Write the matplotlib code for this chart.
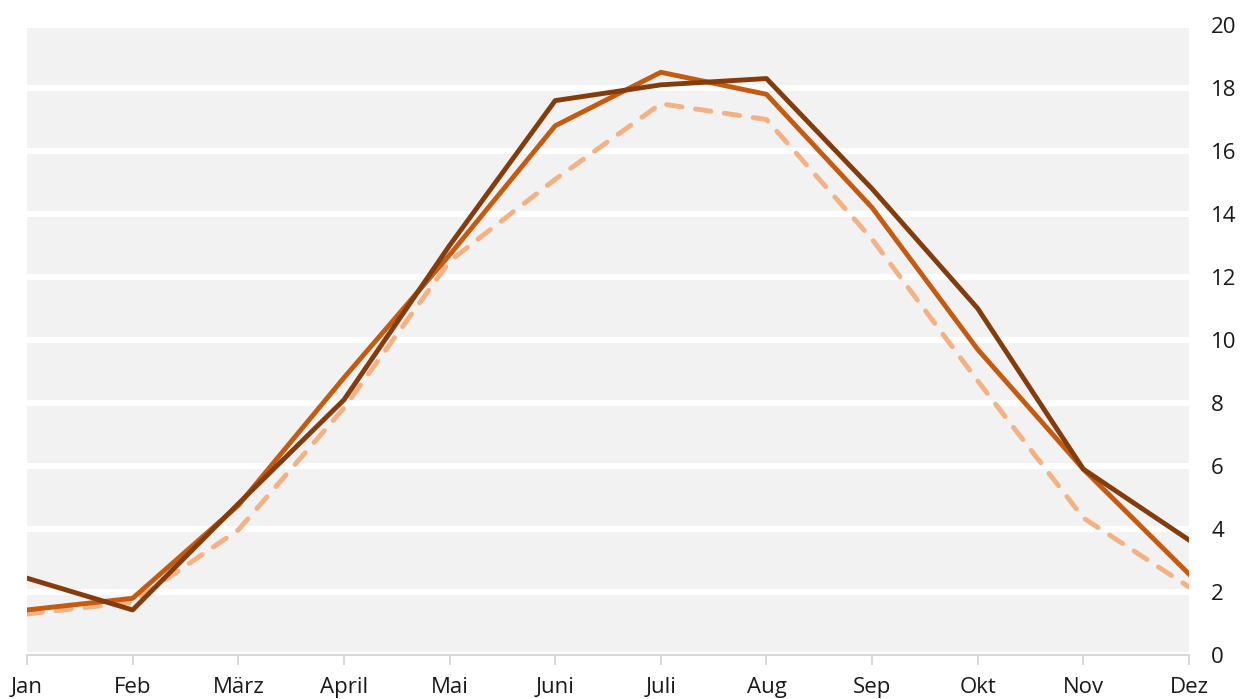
import matplotlib
matplotlib.use("Agg")
import matplotlib.pyplot as plt

months = ["Jan", "Feb", "März", "April", "Mai", "Juni", "Juli", "Aug", "Sep", "Okt", "Nov", "Dez"]
series_dark = [2.44, 1.43, 4.8, 8.1, 13.0, 17.6, 18.1, 18.3, 14.8, 11.0, 5.9, 3.65]
series_mid = [1.43, 1.8, 4.75, 8.8, 12.7, 16.8, 18.5, 17.8, 14.2, 9.7, 5.9, 2.57]
series_light = [1.3, 1.68, 3.97, 7.84, 12.5, 15.1, 17.5, 17.0, 13.2, 8.7, 4.35, 2.16]
yticks = list(range(0, 21, 2))

plt.rcParams['font.family'] = ['Open Sans', 'DejaVu Sans']

fig = plt.figure(figsize=(12.5, 6.99), dpi=100)
ax = fig.add_axes([27/1250, 44/699, (1189-27)/1250, 630/699])
ax.set_facecolor('#F2F2F2')

x = list(range(len(months)))
ax.plot(x, series_light, color='#F4B183', lw=3.5, ls=(0, (3.2, 2.8)), dash_capstyle='round', zorder=3)
ax.plot(x, series_mid, color='#C55A11', lw=3.5, zorder=4)
ax.plot(x, series_dark, color='#843C0C', lw=3.5, zorder=5)

ax.set_xlim(0, len(months) - 1)
ax.set_ylim(0, 20)
ax.set_xticks(x)
ax.set_xticklabels(months)
ax.set_yticks(yticks)
ax.yaxis.tick_right()
ax.grid(axis='y', color='white', lw=4.5)
ax.set_axisbelow(True)

for s in ['top', 'left', 'right']:
    ax.spines[s].set_visible(False)
ax.spines['bottom'].set_color('#D9D9D9')
ax.spines['bottom'].set_linewidth(1.5)
ax.tick_params(axis='x', colors='#D9D9D9', length=7, width=1.5, labelcolor='#1a1a1a', labelsize=16, pad=9)
ax.tick_params(axis='y', length=0, labelcolor='#1a1a1a', labelsize=16, pad=16)
for lbl in ax.get_yticklabels():
    lbl.set_horizontalalignment('left')

fig.savefig('out.png', dpi=100)
